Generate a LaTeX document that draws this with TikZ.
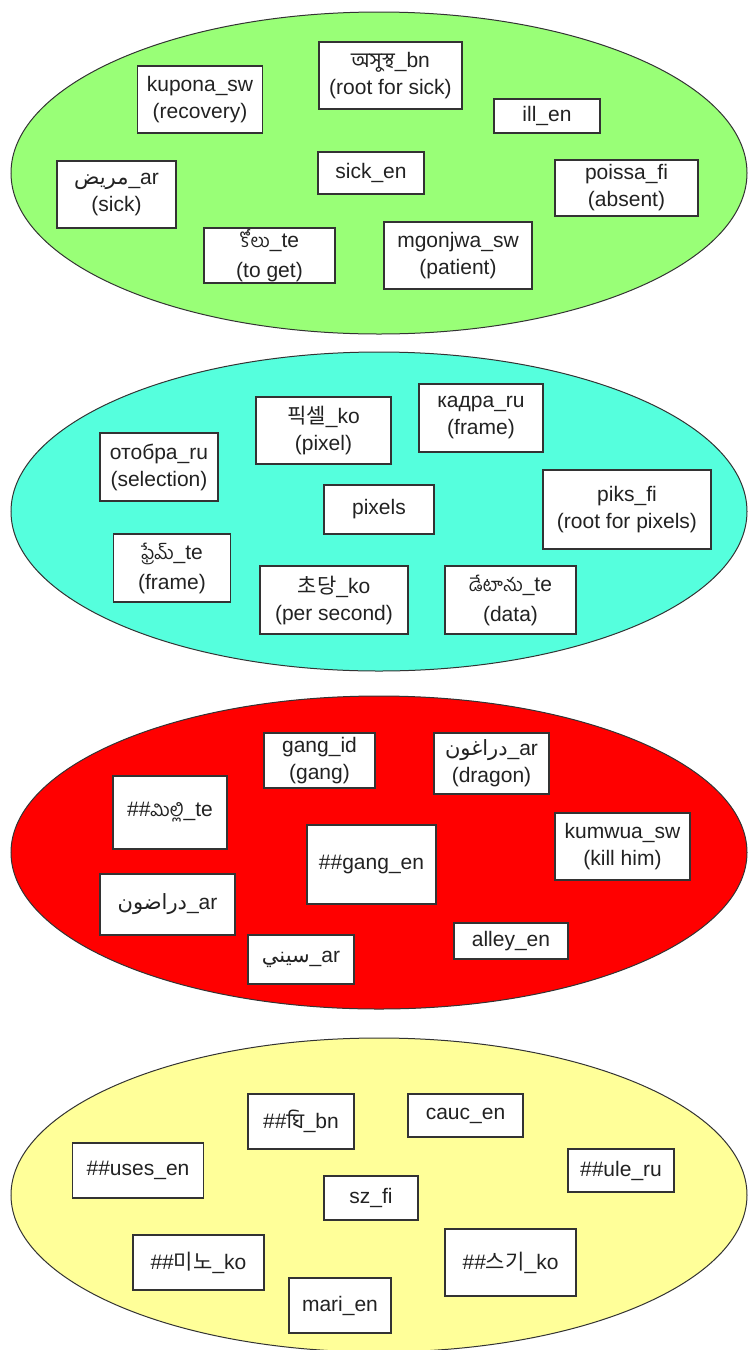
\documentclass[tikz,border=0pt]{standalone}
\usepackage{fontspec}
\setmainfont{Liberation Sans}
\newfontfamily\bnfont[Script=Bengali]{Hind Siliguri}
\newfontfamily\tefont[Script=Telugu,Scale=0.88]{Hind Guntur}
\newfontfamily\arfont[Script=Arabic]{DejaVu Sans}
\newfontfamily\kofont{Noto Sans CJK KR}
\TeXXeTstate=1
\newcommand{\AR}[1]{{\arfont\beginR #1\endR}}
\definecolor{cgreen}{HTML}{99FF77}
\definecolor{ccyan}{HTML}{55FFDD}
\definecolor{cred}{HTML}{FF0000}
\definecolor{cyellow}{HTML}{FFFF99}
\definecolor{edge}{HTML}{333333}
\definecolor{txt}{HTML}{222222}
\tikzset{
  grp/.style={draw=edge, line width=1pt},
  lbl/.style={draw=edge, line width=1.4pt, fill=white, inner sep=0pt, align=center,
    text=txt, font=\fontsize{21}{27}\selectfont},
  bx/.style 2 args={minimum width=#1pt, minimum height=#2pt},
}
\begin{document}
\begin{tikzpicture}[x=1pt,y=-1pt]
\useasboundingbox (0,0) rectangle (748,1350);
% group ellipses
\path[grp, fill=cgreen] (379,173) ellipse [x radius=368pt, y radius=161pt];
\path[grp, fill=ccyan] (379,511.5) ellipse [x radius=368pt, y radius=159.5pt];
\path[grp, fill=cred] (379,852.5) ellipse [x radius=368pt, y radius=156.5pt];
\path[grp, fill=cyellow] (379,1195) ellipse [x radius=368pt, y radius=157pt];
% green group
\node[lbl, bx={125}{67}] (kupona) at (200,99.5) {kupona\_sw\\(recovery)};
\node[lbl, bx={143}{67}] (asustha) at (390.5,75.5) {{\bnfont অসুস্থ}\_bn\\(root for sick)};
\node[lbl, bx={106}{34}] (ill) at (547,116) {ill\_en};
\node[lbl, bx={106}{42}] (sick) at (371,173) {sick\_en};
\node[lbl, bx={143}{56}] (poissa) at (626.5,188) {poissa\_fi\\(absent)};
\node[lbl, bx={119}{67}] (marid) at (116.5,194.5) {\AR{مريض}\_ar\\(sick)};
\node[lbl, bx={131}{55}] (kolu) at (269.5,255.5) {{\tefont కోలు}\_te\\[3pt](to get)};
\node[lbl, bx={148}{67}] (mgonjwa) at (458,255.5) {mgonjwa\_sw\\(patient)};
% cyan group
\node[lbl, bx={118}{68}] (otobra) at (159,467) {отобра\_ru\\(selection)};
\node[lbl, bx={135}{67}] (piksel) at (323.5,430.5) {{\kofont 픽셀}\_ko\\(pixel)};
\node[lbl, bx={124}{68}] (kadra) at (481,418) {кадра\_ru\\(frame)};
\node[lbl, bx={110}{49}] (pixels) at (379,509.5) {pixels};
\node[lbl, bx={168}{79}] (piks) at (627,509.5) {piks\_fi\\(root for pixels)};
\node[lbl, bx={117}{68}] (frem) at (172,568) {{\tefont ఫ్రేమ్}\_te\\[3pt](frame)};
\node[lbl, bx={148}{68}] (chodang) at (334,600) {{\kofont 초당}\_ko\\(per second)};
\node[lbl, bx={131}{68}] (detanu) at (510.5,600) {{\tefont డేటాను}\_te\\[3pt](data)};
% red group
\node[lbl, bx={111}{55}] (gangid) at (319.5,760.5) {gang\_id\\(gang)};
\node[lbl, bx={115}{61}] (dragon) at (491.5,763.5) {\AR{دراغون}\_ar\\(dragon)};
\node[lbl, bx={114}{73}] (milli) at (170,812.5) {\#\#{\tefont మిల్లి}\_te};
\node[lbl, bx={129}{79}] (gangen) at (371.5,864.5) {\#\#gang\_en};
\node[lbl, bx={135}{67}] (kumwua) at (622.5,846.5) {kumwua\_sw\\(kill him)};
\node[lbl, bx={135}{61}] (dragontwo) at (167.5,904.5) {\AR{دراضون}\_ar};
\node[lbl, bx={106}{49}] (sini) at (301,959.5) {\AR{سيني}\_ar};
\node[lbl, bx={114}{36}] (alley) at (511,941) {alley\_en};
% yellow group
\node[lbl, bx={106}{55}] (ghi) at (301,1121.5) {\#\#{\bnfont ঘি}\_bn};
\node[lbl, bx={115}{43}] (cauc) at (465.5,1115.5) {cauc\_en};
\node[lbl, bx={131}{55}] (uses) at (138,1170.5) {\#\#uses\_en};
\node[lbl, bx={106}{43}] (ule) at (621,1170.5) {\#\#ule\_ru};
\node[lbl, bx={94}{44}] (szfi) at (371,1198) {sz\_fi};
\node[lbl, bx={131}{55}] (mino) at (198.5,1262.5) {\#\#{\kofont 미노}\_ko};
\node[lbl, bx={131}{67}] (seugi) at (510.5,1262.5) {\#\#{\kofont 스기}\_ko};
\node[lbl, bx={102}{55}] (mari) at (340,1305.5) {mari\_en};
\end{tikzpicture}
\end{document}
